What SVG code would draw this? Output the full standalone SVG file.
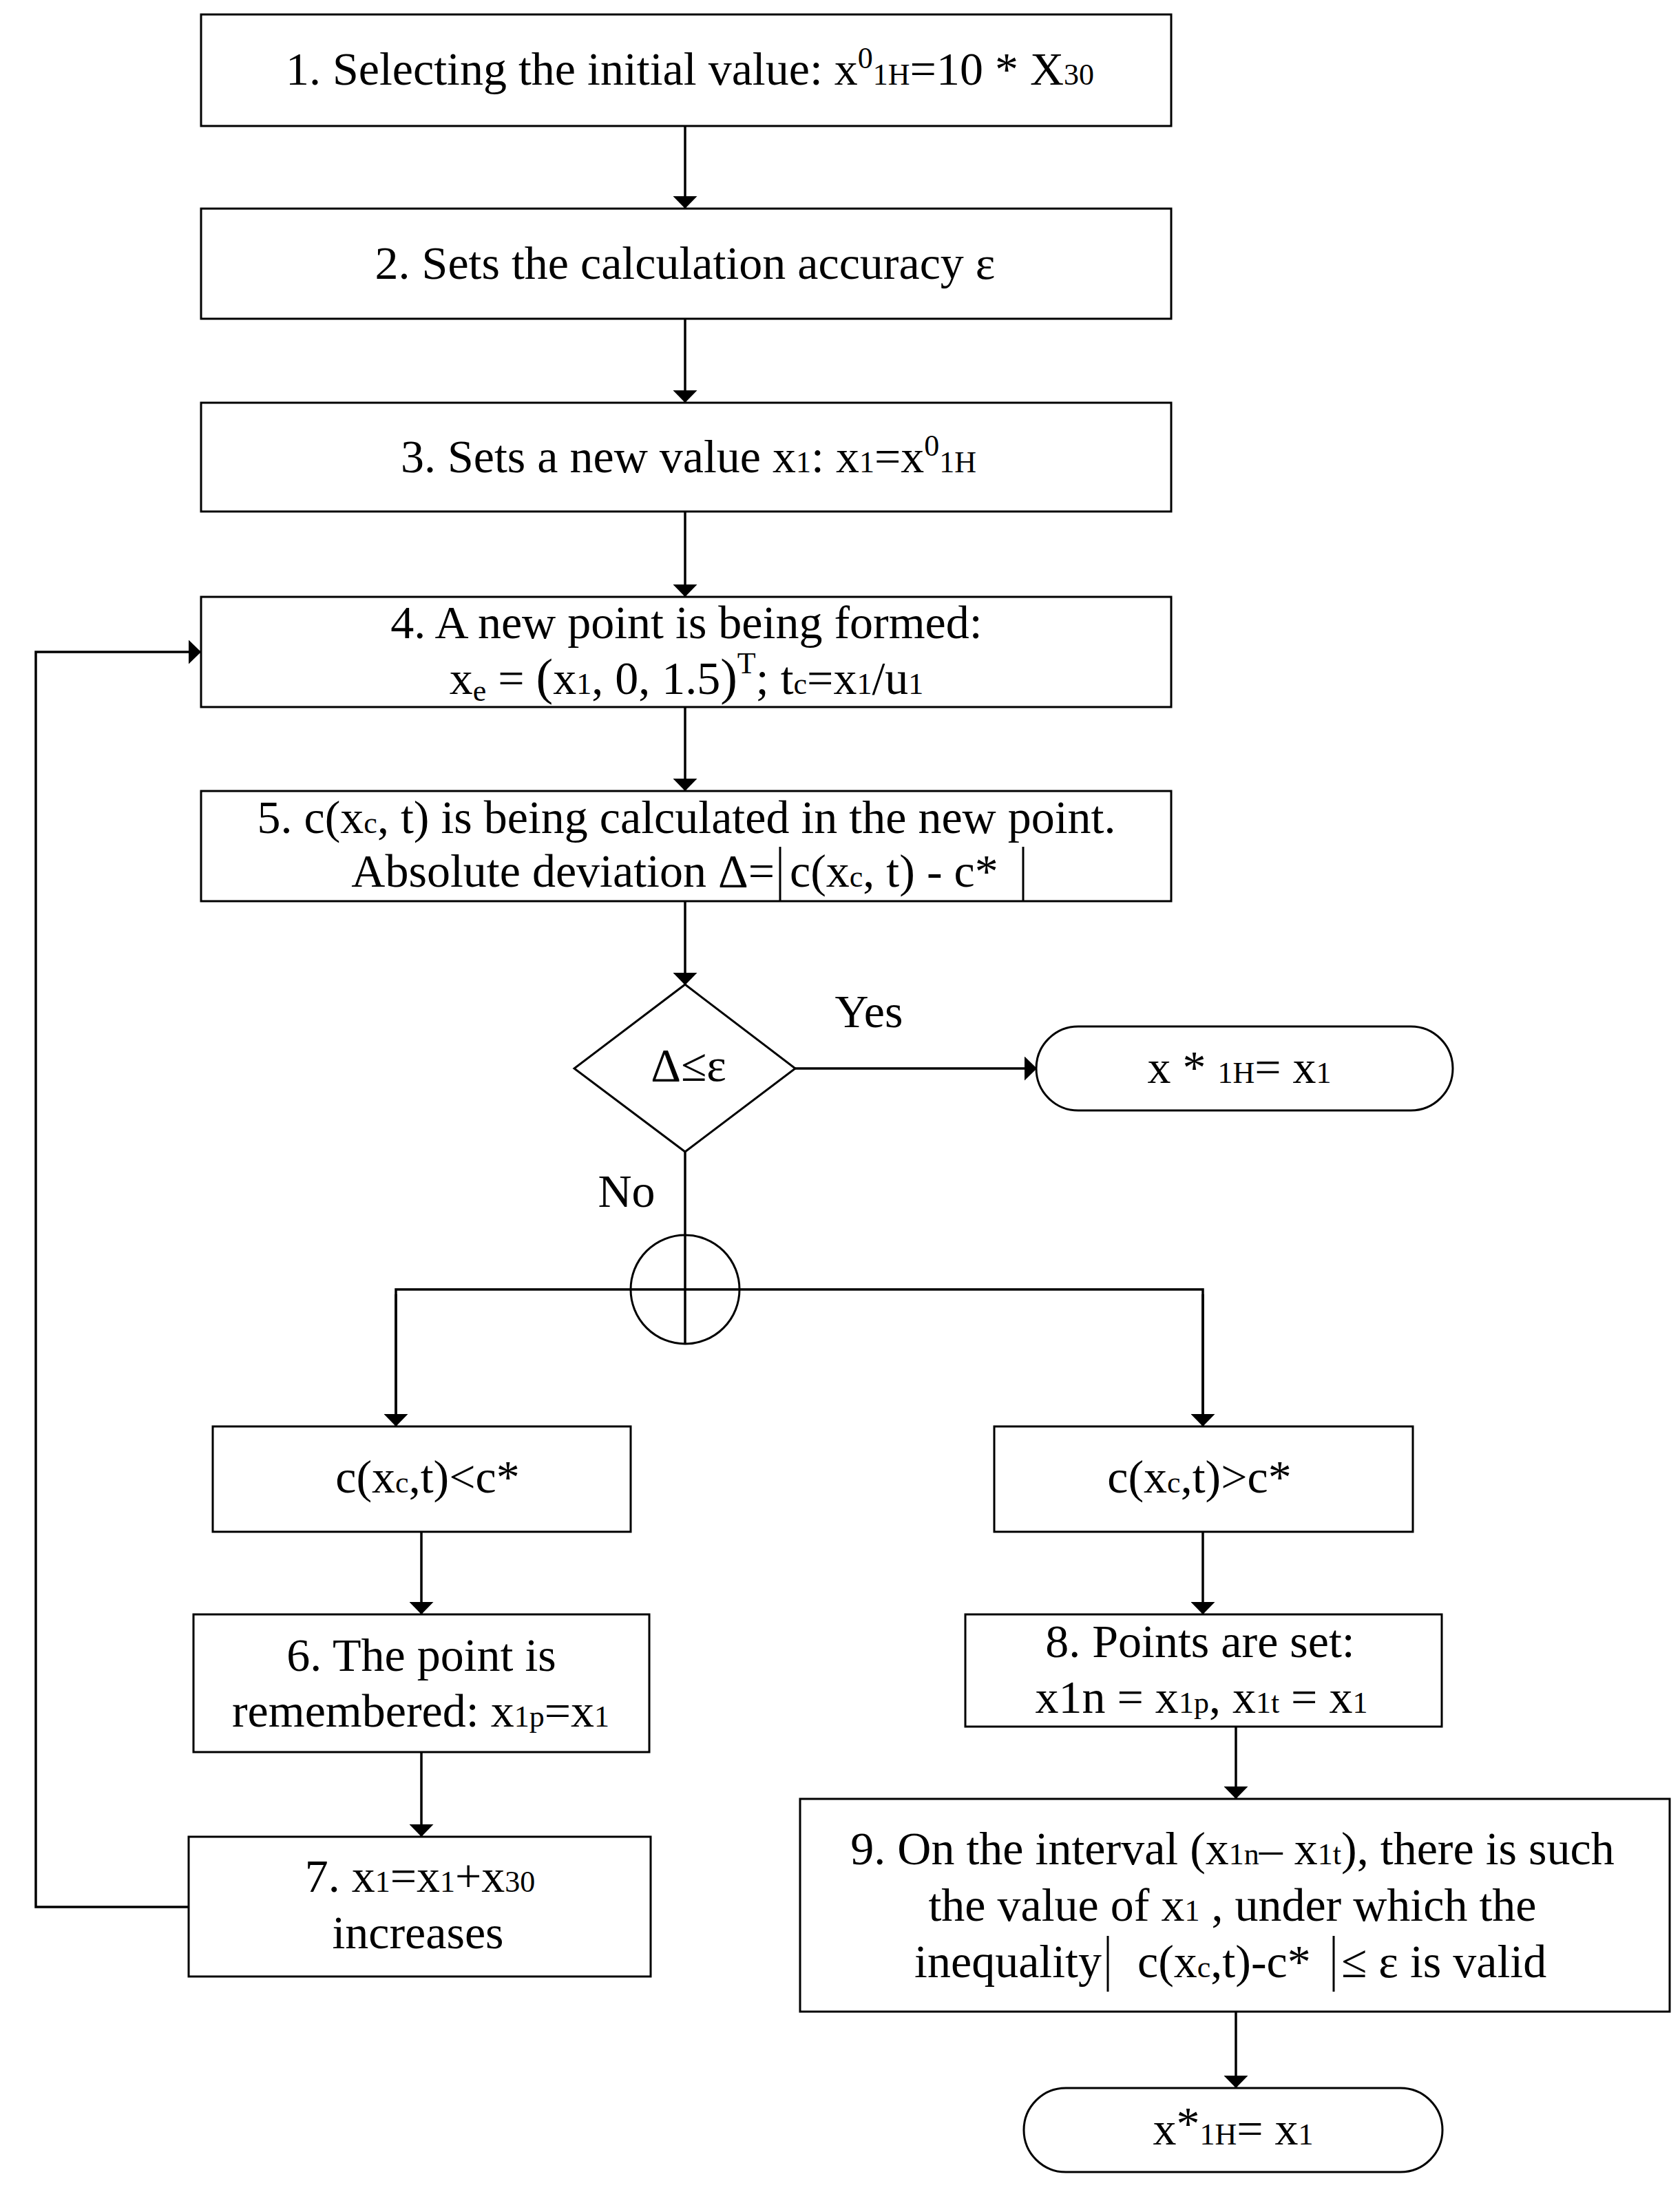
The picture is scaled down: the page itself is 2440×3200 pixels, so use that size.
<svg xmlns="http://www.w3.org/2000/svg" width="2440" height="3200" viewBox="0 0 2440 3200">
<style>
.b{fill:#fff;stroke:#000;stroke-width:3}
.c{fill:none;stroke:#000;stroke-width:3.5}
text{font-family:"Liberation Serif","Times New Roman",serif;font-size:68px;fill:#000}
.m{text-anchor:middle}
.e{text-anchor:end}
.s{font-size:44px}
.p{font-size:74px}
</style>
<defs>
<marker id="ah" markerUnits="userSpaceOnUse" viewBox="0 0 18 35" refX="17" refY="17.5" markerWidth="18" markerHeight="35" orient="auto">
<path d="M0,0 L18,17.5 L0,35 Z" fill="#000"/>
</marker>
</defs>
<rect width="2440" height="3200" fill="#fff"/>
<g id="connectors">
<line class="c" x1="995" y1="183" x2="995" y2="302" marker-end="url(#ah)"/>
<line class="c" x1="995" y1="463" x2="995" y2="584" marker-end="url(#ah)"/>
<line class="c" x1="995" y1="743" x2="995" y2="866" marker-end="url(#ah)"/>
<line class="c" x1="995" y1="1027" x2="995" y2="1148" marker-end="url(#ah)"/>
<line class="c" x1="995" y1="1309" x2="995" y2="1430" marker-end="url(#ah)"/>
<line class="c" x1="1155" y1="1552" x2="1505" y2="1552" marker-end="url(#ah)"/>
<line class="c" x1="995" y1="1673" x2="995" y2="1794"/>
<polyline class="c" points="575,2071 575,1873 1747,1873 1747,2071" stroke-linejoin="miter"/>
<line class="c" x1="575" y1="1880" x2="575" y2="2071" marker-end="url(#ah)"/>
<line class="c" x1="1747" y1="1880" x2="1747" y2="2071" marker-end="url(#ah)"/>
<line class="c" x1="612" y1="2225" x2="612" y2="2344" marker-end="url(#ah)"/>
<line class="c" x1="1747" y1="2225" x2="1747" y2="2344" marker-end="url(#ah)"/>
<line class="c" x1="612" y1="2545" x2="612" y2="2667" marker-end="url(#ah)"/>
<line class="c" x1="1795" y1="2508" x2="1795" y2="2612" marker-end="url(#ah)"/>
<line class="c" x1="1795" y1="2922" x2="1795" y2="3032" marker-end="url(#ah)"/>
<polyline class="c" points="274,2770 52,2770 52,947 291,947" marker-end="url(#ah)"/>
</g>
<g id="n1">
<rect class="b" x="292" y="21" width="1409" height="162"/>
<text x="1002" y="123" class="m">1. Selecting the initial value: x<tspan class="s" dy="-24">0</tspan><tspan class="s" dy="24">1H</tspan>=10 * X<tspan class="s">30</tspan></text>
</g>
<g id="n2">
<rect class="b" x="292" y="303" width="1409" height="160"/>
<text x="995" y="405" class="m">2. Sets the calculation accuracy ε</text>
</g>
<g id="n3">
<rect class="b" x="292" y="585" width="1409" height="158"/>
<text x="1000" y="686" class="m">3. Sets a new value x<tspan class="s">1</tspan>: x<tspan class="s">1</tspan>=x<tspan class="s" dy="-24">0</tspan><tspan class="s" dy="24">1H</tspan></text>
</g>
<g id="n4">
<rect class="b" x="292" y="867" width="1409" height="160"/>
<text x="997" y="927" class="m">4. A new point is being formed:</text>
<text x="997" y="1008" class="m">x<tspan class="s" dy="10">e</tspan><tspan dy="-10"> = </tspan><tspan class="p">(</tspan>x<tspan class="s">1</tspan>, 0, 1.5<tspan class="p">)</tspan><tspan class="s" dy="-30">T</tspan><tspan dy="30">; t</tspan><tspan class="s">c</tspan>=x<tspan class="s">1</tspan>/u<tspan class="s">1</tspan></text>
</g>
<g id="n5">
<rect class="b" x="292" y="1149" width="1409" height="160"/>
<text x="997" y="1210" class="m">5. c(x<tspan class="s">c</tspan>, t) is being calculated in the new point.</text>
<text x="1125" y="1288" class="e">Absolute deviation Δ=</text>
<text x="1147" y="1288">c(x<tspan class="s">c</tspan>, t) - c*</text>
<line x1="1133" y1="1230" x2="1133" y2="1309" stroke="#000" stroke-width="3"/>
<line x1="1486" y1="1230" x2="1486" y2="1309" stroke="#000" stroke-width="3"/>
</g>
<g id="dec">
<polygon class="b" points="995,1430 1155,1552 995,1673 834,1552"/>
<text x="1000" y="1570" class="m">Δ≤ε</text>
</g>
<text x="1262" y="1492" class="m">Yes</text>
<text x="910" y="1753" class="m">No</text>
<g id="t1">
<rect class="b" x="1505" y="1491" width="605" height="122" rx="61" ry="61"/>
<text x="1800" y="1573" class="m">x * <tspan class="s">1H</tspan>= x<tspan class="s">1</tspan></text>
</g>
<g id="join">
<circle class="b" cx="995" cy="1873" r="79"/>
<line x1="995" y1="1794" x2="995" y2="1952" stroke="#000" stroke-width="3.5"/>
<line x1="916" y1="1873" x2="1074" y2="1873" stroke="#000" stroke-width="3.5"/>
</g>
<g id="nL">
<rect class="b" x="309" y="2072" width="607" height="153"/>
<text x="621" y="2168" class="m">c(x<tspan class="s">c</tspan>,t)&lt;c*</text>
</g>
<g id="nR">
<rect class="b" x="1444" y="2072" width="608" height="153"/>
<text x="1742" y="2168" class="m">c(x<tspan class="s">c</tspan>,t)&gt;c*</text>
</g>
<g id="n6">
<rect class="b" x="281" y="2345" width="662" height="200"/>
<text x="612" y="2427" class="m">6. The point is</text>
<text x="611" y="2508" class="m">remembered: x<tspan class="s">1p</tspan>=x<tspan class="s">1</tspan></text>
</g>
<g id="n8">
<rect class="b" x="1402" y="2345" width="692" height="163"/>
<text x="1743" y="2407" class="m">8. Points are set:</text>
<text x="1745" y="2488" class="m">x1n = x<tspan class="s">1p</tspan>, x<tspan class="s">1t</tspan> = x<tspan class="s">1</tspan></text>
</g>
<g id="n7">
<rect class="b" x="274" y="2668" width="671" height="203"/>
<text x="610" y="2748" class="m">7. x<tspan class="s">1</tspan>=x<tspan class="s">1</tspan>+x<tspan class="s">30</tspan></text>
<text x="607" y="2830" class="m">increases</text>
</g>
<g id="n9">
<rect class="b" x="1162" y="2613" width="1263" height="309"/>
<text x="1790" y="2708" class="m">9. On the interval (x<tspan class="s">1n</tspan>– x<tspan class="s">1t</tspan>), there is such</text>
<text x="1790" y="2790" class="m">the value of x<tspan class="s">1</tspan> , under which the</text>
<text x="1600" y="2872" class="e">inequality</text>
<text x="1652" y="2872">c(x<tspan class="s">c</tspan>,t)-c*</text>
<text x="1948" y="2872">≤ ε is valid</text>
<line x1="1609" y1="2812" x2="1609" y2="2893" stroke="#000" stroke-width="3"/>
<line x1="1937" y1="2812" x2="1937" y2="2893" stroke="#000" stroke-width="3"/>
</g>
<g id="t2">
<rect class="b" x="1487" y="3033" width="608" height="122" rx="61" ry="61"/>
<text x="1791" y="3115" class="m">x<tspan dy="-8">*</tspan><tspan class="s" dy="8">1H</tspan>= x<tspan class="s">1</tspan></text>
</g>
</svg>
